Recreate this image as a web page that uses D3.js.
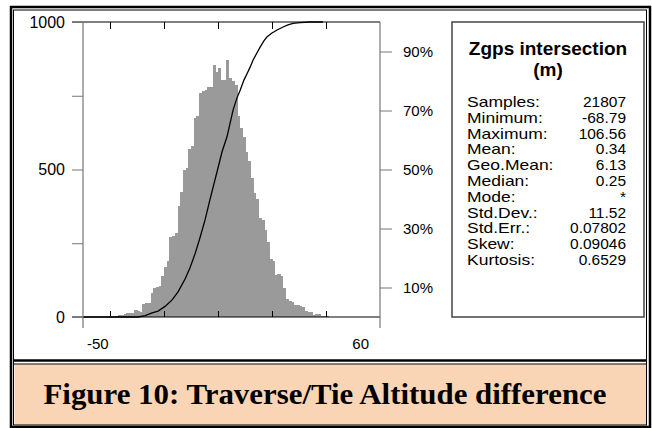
<!DOCTYPE html>
<html>
<head>
<meta charset="utf-8">
<script src="https://cdnjs.cloudflare.com/ajax/libs/d3/7.8.5/d3.min.js"></script>
<style>
  body { margin: 0; background: #fff; }
  svg { display: block; }
  text { font-family: "Liberation Sans", Arial, Helvetica, sans-serif; }
</style>
</head>
<body>
<svg id="chart" width="652" height="428"></svg>
<script>
// histogram bins (1 m wide, start value) and counts
var binStart = [-38,-37,-36,-35,-34,-33,-32,-31,-30,-29,-28,-27,-26,-25,-24,-23,-22,-21,-20,-19,
  -18,-17,-16,-15,-14,-13,-12,-11,-10,-9,-8,-7,-6,-5,-4,-3,-2,-1,0,1,
  2,3,4,5,6,7,8,9,10,11,12,13,14,15,16,17,18,19,20,21,
  22,23,24,25,26,27,28,29,30,31,32,33,34,35,36,37,38,39,40];
var binCount = [5,6,8,10,12,12,15,25,22,18,44,46,48,80,100,102,105,140,168,190,
  272,275,285,375,425,500,505,570,580,675,680,760,765,770,778,778,855,830,845,805,
  805,870,810,800,785,680,640,610,560,530,470,420,400,335,330,295,255,195,190,142,
  145,140,98,60,55,50,42,40,36,33,20,18,16,8,10,10,4,4,2];

// cumulative curve (value, percent)
var cumVal = [-50,-29.6,-27.0,-24.4,-22.2,-19.6,-17.0,-14.8,-12.2,-10.4,-8.5,-6.7,-4.8,-3.0,-1.5,0.0,1.5,3.3,4.4,5.6,
  7.0,8.1,9.6,10.7,11.9,13.0,14.4,15.6,17.0,18.1,20.0,21.9,24.1,25.9,27.8,30.4,34.1,38.9];
var cumPct = [0,0,0.5,1.4,2.0,3.6,5.8,8.5,12.9,16.6,21.4,26.8,32.9,39.7,45.1,50.5,56.0,61.0,65.4,70.2,
  74.2,76.6,80.3,82.4,84.7,87.1,89.5,91.5,93.6,94.9,96.3,97.3,98.3,99.0,99.5,99.8,100,100];

var countTicks = [0,250,500,750,1000];
var countLabels = [0,500,1000];
var pctTicks = [10,30,50,70,90];
var xTicks = [-40,-20,0,20,40];
var xLabels = [-50,60];

var statTitle = ["Zgps intersection","(m)"];
var statNames = ["Samples:","Minimum:","Maximum:","Mean:","Geo.Mean:","Median:","Mode:","Std.Dev.:","Std.Err.:","Skew:","Kurtosis:"];
var statValues = ["21807","-68.79","106.56","0.34","6.13","0.25","*","11.52","0.07802","0.09046","0.6529"];

var caption = "Figure 10: Traverse/Tie Altitude difference";

var svg = d3.select("#chart");

var plot = {left: 83, right: 380, top: 22, bottom: 317};

var xScale = d3.scaleLinear().domain([-50, 60]).range([plot.left, plot.right]);
var yScale = d3.scaleLinear().domain([0, 1000]).range([plot.bottom, plot.top]);
var pScale = d3.scaleLinear().domain([0, 100]).range([plot.bottom, plot.top]);

// page frame (double border) and caption panel
svg.append("rect").attr("x", 14.5).attr("y", 364.5).attr("width", 631.5).attr("height", 60.5)
  .attr("fill", "#fad5b5");
svg.append("rect").attr("x", 11).attr("y", 7).attr("width", 639).attr("height", 420)
  .attr("fill", "none").attr("stroke", "#000").attr("stroke-width", 2.5);
svg.append("rect").attr("x", 13.5).attr("y", 10).attr("width", 633).attr("height", 415)
  .attr("fill", "none").attr("stroke", "#000").attr("stroke-width", 1);
svg.append("line").attr("x1", 13).attr("x2", 647).attr("y1", 360.5).attr("y2", 360.5)
  .attr("stroke", "#000").attr("stroke-width", 2.5);
svg.append("line").attr("x1", 13).attr("x2", 647).attr("y1", 364).attr("y2", 364)
  .attr("stroke", "#000").attr("stroke-width", 1);

svg.append("text")
  .attr("x", 325).attr("y", 404)
  .attr("text-anchor", "middle")
  .attr("textLength", 563)
  .attr("lengthAdjust", "spacingAndGlyphs")
  .style("font-family", "'Liberation Serif', 'Times New Roman', serif")
  .style("font-weight", "bold")
  .style("font-size", "29px")
  .text(caption);

// histogram
var g = svg.append("g");
g.selectAll("rect.bar")
  .data(binStart.map(function(d, i) { return {x: d, n: binCount[i]}; }))
  .enter().append("rect")
    .attr("class", "bar")
    .attr("x", function(d) { return xScale(d.x); })
    .attr("width", function(d) { return xScale(d.x + 1) - xScale(d.x) + 0.6; })
    .attr("y", function(d) { return yScale(d.n); })
    .attr("height", function(d) { return yScale(0) - yScale(d.n); })
    .attr("fill", "#9a9a9a")
    .attr("shape-rendering", "crispEdges");

// cumulative line
var line = d3.line()
  .x(function(d) { return xScale(d[0]); })
  .y(function(d) { return pScale(d[1]); });
g.append("path")
  .datum(cumVal.map(function(v, i) { return [v, cumPct[i]]; }))
  .attr("fill", "none")
  .attr("stroke", "#000")
  .attr("stroke-width", 1.3)
  .attr("d", line);

// top / bottom frame lines with ticks
svg.append("line").attr("x1", plot.left - 11).attr("x2", plot.right)
  .attr("y1", plot.top).attr("y2", plot.top).attr("stroke", "#000");
svg.append("line").attr("x1", plot.left - 11).attr("x2", plot.right)
  .attr("y1", plot.bottom).attr("y2", plot.bottom).attr("stroke", "#000");

var topAxis = svg.append("g").attr("transform", "translate(0," + plot.top + ")")
  .call(d3.axisBottom(xScale).tickValues(xTicks).tickSize(7).tickFormat(""));
var botAxis = svg.append("g").attr("transform", "translate(0," + plot.bottom + ")")
  .call(d3.axisTop(xScale).tickValues(xTicks).tickSize(6).tickFormat(""));
[topAxis, botAxis].forEach(function(a) {
  a.select(".domain").remove();
  a.selectAll("line").attr("stroke", "#000");
});

// left count axis
var leftAxis = svg.append("g").attr("transform", "translate(" + plot.left + ",0)")
  .call(d3.axisLeft(yScale).tickValues(countTicks).tickSize(11).tickPadding(7)
    .tickFormat(function(d) { return countLabels.indexOf(d) >= 0 ? d : ""; }));
leftAxis.select(".domain").remove();
leftAxis.selectAll("line").attr("stroke", "#777");
leftAxis.selectAll("text").style("font-size", "16px").style("font-family", null).attr("fill", "#000");
svg.append("line").attr("x1", plot.left).attr("x2", plot.left)
  .attr("y1", plot.top).attr("y2", plot.bottom + 11).attr("stroke", "#777").attr("stroke-width", 1.2);

// right percent axis
var rightAxis = svg.append("g").attr("transform", "translate(" + plot.right + ",0)")
  .call(d3.axisRight(pScale).tickValues(pctTicks).tickSize(12).tickPadding(11)
    .tickFormat(function(d) { return d + "%"; }));
rightAxis.select(".domain").remove();
rightAxis.selectAll("line").attr("stroke", "#777");
rightAxis.selectAll("text").style("font-size", "15px").style("font-family", null).attr("fill", "#000");
svg.append("line").attr("x1", plot.right).attr("x2", plot.right)
  .attr("y1", plot.top).attr("y2", plot.bottom + 11).attr("stroke", "#777").attr("stroke-width", 1.2);

// x end labels
svg.append("text").attr("x", xScale(xLabels[0]) + 4).attr("y", 349)
  .style("font-size", "15px").text(xLabels[0]);
svg.append("text").attr("x", xScale(xLabels[1]) - 11).attr("y", 349)
  .attr("text-anchor", "end").style("font-size", "15px").text(xLabels[1]);

// statistics box
var box = {left: 452, right: 644};
svg.append("rect").attr("x", box.left).attr("y", plot.top)
  .attr("width", box.right - box.left).attr("height", plot.bottom - plot.top)
  .attr("fill", "#fff").attr("stroke", "#444").attr("stroke-width", 1.5);

svg.selectAll("text.stitle").data(statTitle).enter().append("text")
  .attr("class", "stitle")
  .attr("x", (box.left + box.right) / 2)
  .attr("y", function(d, i) { return 55 + i * 21; })
  .attr("text-anchor", "middle")
  .style("font-size", "19px").style("font-weight", "bold")
  .text(function(d) { return d; });

// rows are packed tight in the original, so squash text a bit vertically
var rowH = 14;
svg.selectAll("text.sname").data(statNames).enter().append("text")
  .attr("class", "sname")
  .attr("transform", function(d, i) {
    return "translate(467," + (107 + i * 15.8) + ") scale(1," + (rowH / 17.5) + ")";
  })
  .style("font-size", "17.5px")
  .text(function(d) { return d; });

svg.selectAll("text.sval").data(statValues).enter().append("text")
  .attr("class", "sval")
  .attr("transform", function(d, i) {
    return "translate(626," + (107 + i * 15.8) + ") scale(1," + (rowH / 15.5) + ")";
  })
  .attr("text-anchor", "end")
  .style("font-size", "15.5px")
  .text(function(d) { return d; });
</script>
</body>
</html>
